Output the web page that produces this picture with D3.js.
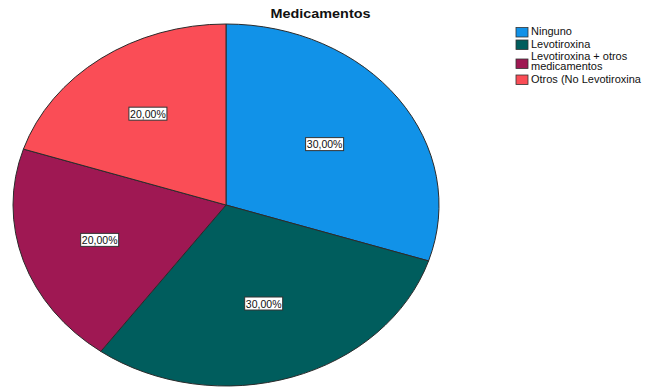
<!DOCTYPE html>
<html>
<head>
<meta charset="utf-8">
<script src="https://cdn.jsdelivr.net/npm/d3@7"></script>
<style>
  html, body { margin: 0; padding: 0; background: #fff; }
  svg { display: block; }
</style>
</head>
<body>
<script>
// Medication categories and their share of patients (percent)
const categories = ["Ninguno", "Levotiroxina", "Levotiroxina + otros medicamentos", "Otros (No Levotiroxina"];
const percents = [30, 30, 20, 20];
const colors = ["#1192e8", "#005d5d", "#9f1853", "#fa4d56"];
const chartTitle = "Medicamentos";

const W = 649, H = 387;
const svg = d3.select("body").append("svg").attr("width", W).attr("height", H);

// Elliptical pie: drawn as a circle of radius ry, stretched horizontally
const cx = 226, cy = 205, rx = 213, ry = 181;
const sx = rx / ry;

const pie = d3.pie().sort(null).value(d => d.v).startAngle(0).endAngle(2 * Math.PI);
const data = categories.map((c, i) => ({ name: c, v: percents[i], color: colors[i] }));
const arcs = pie(data);
const arc = d3.arc().innerRadius(0).outerRadius(ry);

const pieG = svg.append("g").attr("transform", `translate(${cx},${cy}) scale(${sx},1)`);
pieG.selectAll("path.slice")
  .data(arcs)
  .join("path")
  .attr("class", "slice")
  .attr("d", arc)
  .attr("fill", d => d.data.color)
  .attr("stroke", "#2b2b2b")
  .attr("stroke-width", 1)
  .attr("vector-effect", "non-scaling-stroke");

// Value labels at each sector's area centroid
const fmt = v => v.toFixed(2).replace(".", ",") + "%";
const labelG = svg.append("g");
arcs.forEach(a => {
  const half = (a.endAngle - a.startAngle) / 2;
  const mid = (a.startAngle + a.endAngle) / 2;
  const r = 2 * ry * Math.sin(half) / (3 * half);
  const x = cx + Math.sin(mid) * r * sx;
  const y = cy - Math.cos(mid) * r;
  const g = labelG.append("g").attr("transform", `translate(${x},${y})`);
  g.append("rect")
    .attr("x", -19).attr("y", -6.5).attr("width", 38).attr("height", 13)
    .attr("fill", "#fff").attr("stroke", "#333").attr("stroke-width", 1);
  g.append("text")
    .attr("x", 0).attr("y", 4)
    .attr("text-anchor", "middle")
    .attr("font-family", "Liberation Sans, Arial, sans-serif")
    .attr("font-size", 10.5)
    .attr("fill", "#111")
    .text(fmt(a.data.v));
});

// Title
svg.append("g")
  .attr("transform", `translate(320.5,18) scale(1.2,1)`)
  .append("text")
  .attr("text-anchor", "middle")
  .attr("font-family", "Liberation Sans, Arial, sans-serif")
  .attr("font-weight", "bold")
  .attr("font-size", 12)
  .attr("fill", "#111")
  .text(chartTitle);

// Legend
const legendX = 516, textX = 531, maxW = 104, lineH = 10, rowGap = 12.5;
const legend = svg.append("g");
let baseline = 35.5;
data.forEach((d, i) => {
  const t = legend.append("text")
    .attr("font-family", "Liberation Sans, Arial, sans-serif")
    .attr("font-size", 10)
    .attr("fill", "#111")
    .attr("transform", `translate(${textX},0) scale(1.1,1)`);
  // simple word wrap
  const words = d.name.split(" ");
  let lines = [], cur = "";
  const probe = t.append("tspan");
  words.forEach(w => {
    const test = cur ? cur + " " + w : w;
    probe.text(test);
    if (probe.node().getComputedTextLength() > maxW && cur) { lines.push(cur); cur = w; }
    else cur = test;
  });
  lines.push(cur);
  probe.remove();
  lines.forEach((ln, k) => {
    t.append("tspan").attr("x", 0).attr("y", baseline + k * lineH).text(ln);
  });
  const first = baseline, last = baseline + (lines.length - 1) * lineH;
  const mid = (first + last) / 2 - 3.5;
  legend.append("rect")
    .attr("x", legendX).attr("y", mid - 4.5 + (lines.length > 1 ? 1.5 : 0))
    .attr("width", 12).attr("height", 9.5)
    .attr("fill", d.color).attr("stroke", "#333").attr("stroke-width", 0.8);
  baseline = last + rowGap;
});
</script>
</body>
</html>
